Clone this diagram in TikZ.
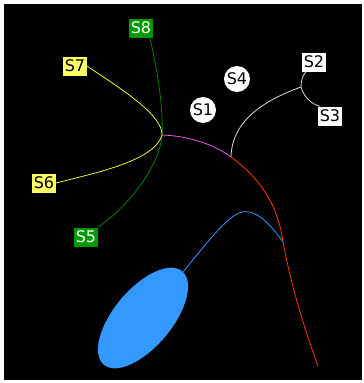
\documentclass[tikz,border=0pt]{standalone}
\usepackage{fontspec}
\setmainfont{DejaVu Sans}
\usetikzlibrary{shapes.geometric}
\definecolor{gboxc}{RGB}{0,153,0}
\definecolor{yboxc}{RGB}{255,255,102}
\definecolor{glinec}{RGB}{0,130,0}
\definecolor{ylinec}{RGB}{238,238,60}
\definecolor{magc}{RGB}{238,85,238}
\definecolor{redc}{RGB}{255,51,0}
\definecolor{bluec}{RGB}{51,153,255}
\definecolor{wlinec}{RGB}{220,220,220}
\begin{document}
\begin{tikzpicture}[x=1pt,y=-1pt,
  lab/.style={font=\fontsize{16}{16}\selectfont, inner xsep=1.5pt, inner ysep=0pt, minimum height=19pt},
  gbox/.style={lab, fill=gboxc, text=white},
  ybox/.style={lab, fill=yboxc, text=black},
  wbox/.style={lab, fill=white, text=black},
  circ/.style={circle, fill=white, text=black, font=\fontsize{16}{16}\selectfont, inner sep=0pt, minimum size=26pt},
  conn/.style={line width=0.8pt}]
\fill[white] (0,0) rectangle (364,383);
\fill[black] (4,4) rectangle (362,380);
\node[gbox] (s8) at (141,28) {S8};
\node[ybox] (s7) at (75,66) {S7};
\node[ybox] (s6) at (44,183) {S6};
\node[gbox] (s5) at (86,237) {S5};
\node[circ] (s1) at (203,110) {S1};
\node[circ] (s4) at (237,79) {S4};
\node[wbox] (s2) at (314,62) {S2};
\node[wbox] (s3) at (330,116) {S3};
\node[ellipse, fill=bluec, inner sep=0pt, minimum width=122pt, minimum height=58pt, rotate=50] (el) at (143,318) {};
\coordinate (hub) at (162,135);
\coordinate (j1) at (231,157);
\coordinate (j2) at (301,87);
\coordinate (j3) at (283,242);
\coordinate (tip) at (318,366);
\coordinate (bs) at (183,272);
\coordinate (pk) at (242,212);
% green
\draw[conn, glinec] (s8.south east) ++(-3pt,0) .. controls (160,80) and (163,115) .. (hub)
  .. controls (160,165) and (130,205) .. (s5.north east);
% yellow
\draw[conn, ylinec] (s7.east) .. controls (120,88) and (163,115) .. (hub)
  .. controls (155,160) and (100,172) .. (s6.east);
% magenta
\draw[conn, magc] (hub) .. controls (190,136) and (215,145) .. (j1);
% red
\draw[conn, redc] (j1) .. controls (260,178) and (278,205) .. (j3)
  .. controls (292,290) and (305,330) .. (tip);
% white
\draw[conn, wlinec] (j1) .. controls (232,120) and (265,100) .. (j2);
\draw[conn, wlinec] (j2) .. controls (301,80) and (303,75) .. ([xshift=-8pt]s2.south);
\draw[conn, wlinec] (j2) .. controls (304,97) and (311,104) .. ([xshift=2pt]s3.north west);
% blue
\draw[conn, bluec] (bs) .. controls (205,245) and (228,215) .. (pk)
  .. controls (258,209) and (273,228) .. (j3);
\end{tikzpicture}
\end{document}
